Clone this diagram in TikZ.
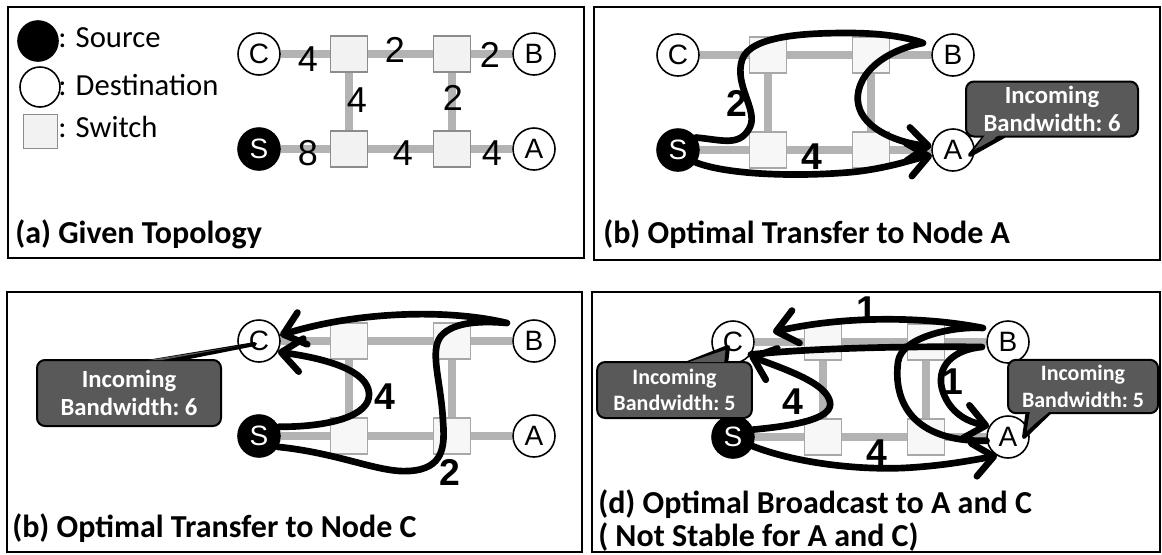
\documentclass[tikz,border=0pt]{standalone}
\usepackage{fontspec}
\setmainfont{Carlito}
\newfontfamily\arialf{Liberation Sans}
\usetikzlibrary{arrows.meta}
\definecolor{linkgray}{HTML}{B3B3B3}
\definecolor{swfill}{HTML}{F2F2F2}
\definecolor{swdraw}{HTML}{8C8C8C}
\definecolor{swfillb}{HTML}{F7F7F7}
\definecolor{swdrawb}{HTML}{A8A8A8}
\definecolor{cfill}{HTML}{595959}
\tikzset{
 circ/.style={circle, draw=black, line width=1.2pt, minimum size=31.5pt, inner sep=0pt, font=\arialf\fontsize{21}{21}\selectfont},
 dest/.style={circ, fill=white},
 src/.style={circ, fill=black, text=white},
 swbox/.style={rectangle, draw=swdraw, fill=swfill, line width=0.9pt, minimum width=27.75pt, minimum height=27pt, inner sep=0pt},
 swboxb/.style={swbox, draw=swdrawb, fill=swfillb},
 link/.style={draw=linkgray, line width=6pt},
 wlab/.style={font=\arialf\fontsize{27}{27}\selectfont, inner sep=0pt},
 flab/.style={font=\arialf\bfseries\fontsize{28}{28}\selectfont, inner sep=0pt},
 flow/.style={draw=black, line width=5pt, line cap=round, line join=round},
 arr/.style={-{Straight Barb[length=15pt,width=25pt,round]}},
 panel/.style={draw=black, line width=1.5pt},
 ttl/.style={font=\bfseries\fontsize{24}{24}\selectfont, inner sep=0pt, anchor=base west},
 legtext/.style={font=\fontsize{23}{23}\selectfont, inner sep=0pt, anchor=base west},
 cbox/.style={draw=black, fill=cfill, line width=1.5pt, rounded corners=6pt, text=white, align=center, font=\bfseries\fontsize{18.5}{21}\selectfont, inner sep=0pt},
 cwedge/.style={draw=black, fill=cfill, line width=3pt, line join=round},
}
\newcommand\drawnet[4]{%
 \begin{scope}[shift={(#2,#3)}]
 \node[#4] (#1s1) at (90,0) {};
 \node[#4] (#1s2) at (193,0) {};
 \node[#4] (#1s3) at (90,95) {};
 \node[#4] (#1s4) at (193,95) {};
 \node[dest] (#1C) at (0,0) {C};
 \node[dest] (#1B) at (275,0) {B};
 \node[src] (#1S) at (0,95) {S};
 \node[dest] (#1A) at (275,95) {A};
 \draw[link] (#1C) -- (#1s1);
 \draw[link] (#1s1) -- (#1s2);
 \draw[link] (#1s2) -- (#1B);
 \draw[link] (#1S) -- (#1s3);
 \draw[link] (#1s3) -- (#1s4);
 \draw[link] (#1s4) -- (#1A);
 \draw[link] (#1s1) -- (#1s3);
 \draw[link] (#1s2) -- (#1s4);
 \end{scope}}
\begin{document}
\begin{tikzpicture}[x=0.75pt,y=-0.75pt]
\useasboundingbox (0,0) rectangle (1162,554);
% frames
\draw[panel] (8,7) rectangle (584,258);
\draw[panel] (594,7) rectangle (1160,260);
\draw[panel] (7,292) rectangle (582,552);
\draw[panel] (592,292) rectangle (1160,552);
% ---------- (a)
\node[src, minimum size=30pt] (lsrc) at (38,41) {};
\node[dest, minimum size=30pt] (ldst) at (40,87) {};
\node[swbox, minimum width=26pt, minimum height=25pt] (lsw) at (40.5,131.5) {};
\node[legtext] (lt1) at (58,47) {: Source};
\node[legtext] (lt2) at (58,95) {: Destination};
\node[legtext] (lt3) at (58,137) {: Switch};
\drawnet{a}{259}{54}{swbox}
\begin{scope}[shift={(259,54)}]
 \node[wlab] (w1) at (49,5) {4};
 \node[wlab] (w2) at (136,-4) {2};
 \node[wlab] (w3) at (231,1) {2};
 \node[wlab] (w4) at (98,46) {4};
 \node[wlab] (w5) at (194,44) {2};
 \node[wlab] (w6) at (49,99) {8};
 \node[wlab] (w7) at (144,99) {4};
 \node[wlab] (w8) at (233,99) {4};
\end{scope}
\node[ttl] (ta) at (15,243) {(a) Given Topology};
% ---------- (b)
\drawnet{b}{678}{55}{swboxb}
\begin{scope}[shift={(678,55)}]
 \draw[flow,arr] (bS.35) .. controls (45,85) and (62,92) .. (72,72) .. controls (80,55) and (56,30) .. (64,5) .. controls (72,-20) and (130,-22) .. (170,-22) .. controls (210,-22) and (235,-16) .. (245,-12) .. controls (195,-2) and (172,30) .. (182,55) .. controls (190,75) and (220,88) .. (bA.170);
 \draw[flow,arr] (bS.-35) .. controls (50,120) and (120,122) .. (175,117) .. controls (212,113) and (235,104) .. (bA.195);
 \node[flab] (bl2) at (59,48) {2};
 \node[flab] (bl4) at (134,102) {4};
\end{scope}
\draw[cwedge] (985,136) -- (970,155) -- (1004,136) -- cycle;
\node[cbox, minimum width=129pt, minimum height=41.25pt] (bcall) at (1052,109) {Incoming\\Bandwidth:\ 6};
\fill[cfill] (986.5,133) -- (974,150) -- (1002.5,133) -- cycle;
\node[ttl] (tb) at (603,243) {(b) Optimal Transfer to Node A};
% ---------- (c)
\drawnet{c}{259}{341}{swboxb}
\begin{scope}[shift={(259,341)}]
 \draw[flow,arr] (cS.-30) .. controls (80,112) and (120,132) .. (150,130) .. controls (185,128) and (186,105) .. (184,80) .. controls (182,40) and (170,10) .. (182,-5) .. controls (195,-20) and (225,-20) .. (248,-18) .. controls (190,-32) and (100,-30) .. (cC.15);
 \draw[flow,arr] (cS.25) .. controls (70,86) and (112,75) .. (110,52) .. controls (108,30) and (70,18) .. (cC.-30);
 \node[flab] (cl4) at (126,56) {4};
 \node[flab] (cl2) at (191,131) {2};
 \draw[cwedge] (-112,21) -- (-4,3) -- (-95,21) -- cycle;
 \node[cbox, minimum width=138pt, minimum height=49.5pt] (ccall) at (-130,52) {Incoming\\Bandwidth:\ 6};
 \fill[cfill] (-110,19) -- (-20,5) -- (-97,19) -- cycle;
\end{scope}
\node[ttl] (tc) at (12,537) {(b) Optimal Transfer to Node C};
% ---------- (d)
\drawnet{d}{733}{342}{swboxb}
\begin{scope}[shift={(733,342)}]
 \coordinate (dCt) at (40,-10);
 \draw[flow,arr] (dA.-170) .. controls (180,100) and (160,60) .. (165,20) .. controls (168,-5) and (220,-16) .. (250,-14) .. controls (190,-26) and (110,-26) .. (dCt);
 \draw[flow,arr] (dC.-35) .. controls (80,6) and (180,4) .. (249,5) .. controls (215,8) and (200,30) .. (212,55) .. controls (220,72) and (235,80) .. (dA.150);
 \draw[flow,arr] (dS.20) .. controls (70,83) and (100,75) .. (97,60) .. controls (93,42) and (60,30) .. (dC.-40);
 \draw[flow,arr] (dS.-25) .. controls (60,120) and (120,128) .. (170,126) .. controls (210,124) and (240,118) .. (dA.-120);
 \node[flab] (dl1a) at (134,-32) {1};
 \node[flab] (dl1b) at (220,40) {1};
 \node[flab] (dl4a) at (60,60) {4};
 \node[flab] (dl4b) at (144,111) {4};
 \draw[cwedge] (-48,22) -- (-5,5) -- (-7,22) -- cycle;
 \node[cbox, minimum width=116pt, minimum height=42pt, font=\bfseries\fontsize{16.5}{20}\selectfont] (dcallL) at (-58.5,48) {Incoming\\Bandwidth:\ 5};
 \fill[cfill] (-44,20) -- (-8,8) -- (-9,20) -- cycle;
 \draw[cwedge] (295,68) -- (291,95) -- (319,68) -- cycle;
 \node[cbox, minimum width=112.5pt, minimum height=40pt, font=\bfseries\fontsize{16.5}{20}\selectfont] (dcallR) at (350,44.5) {Incoming\\Bandwidth:\ 5};
 \fill[cfill] (297,70) -- (294,88) -- (316,70) -- cycle;
\end{scope}
\node[ttl] (td1) at (598,513) {(d) Optimal Broadcast to A and C};
\node[ttl] (td2) at (598,546) {( Not Stable for A and C)};
\end{tikzpicture}
\end{document}
